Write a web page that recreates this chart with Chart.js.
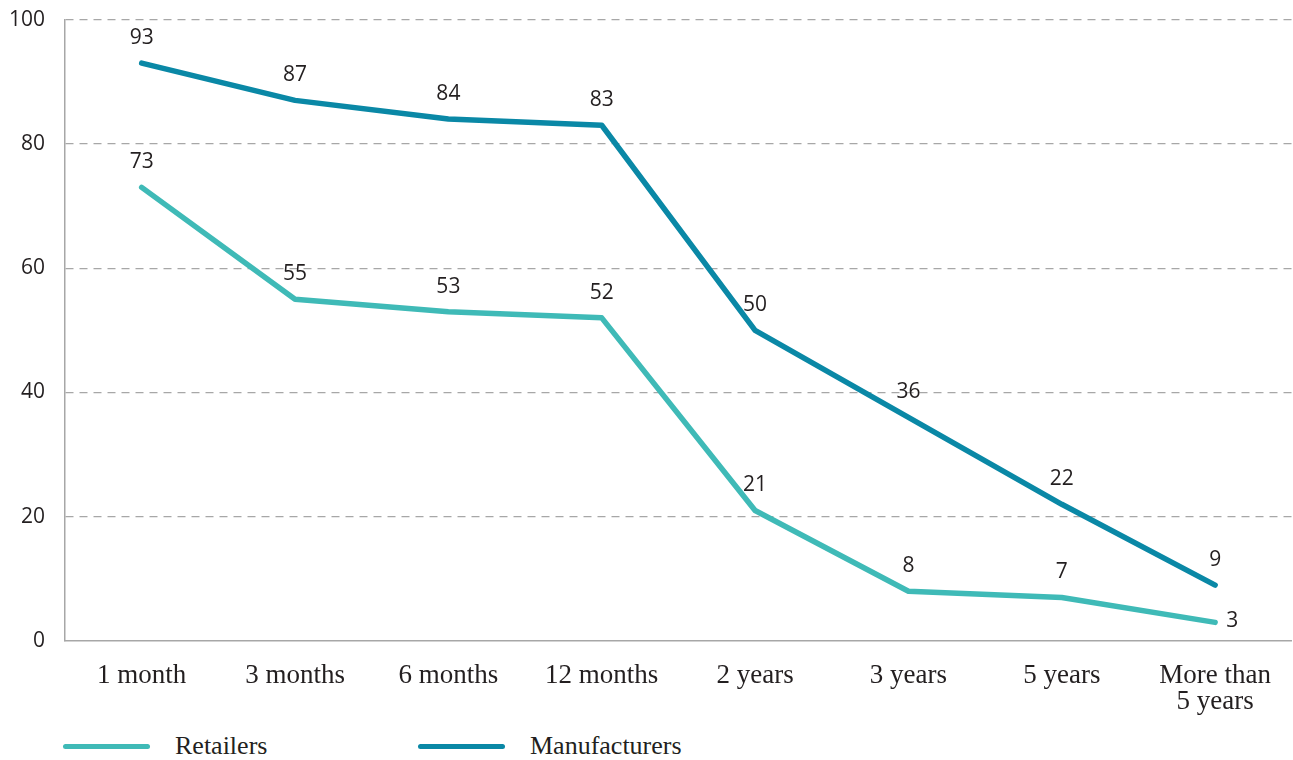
<!DOCTYPE html>
<html>
<head>
<meta charset="utf-8">
<script src="https://cdn.jsdelivr.net/npm/chart.js@4/dist/chart.umd.min.js"></script>
<style>
  html, body { margin: 0; padding: 0; background: #ffffff; overflow: hidden; }
  #wrap { position: relative; width: 1293px; height: 760px; overflow: hidden; }
  #box { position: absolute; left: 0; top: -13px; width: 1293px; height: 728px; }
  #legend { position: absolute; left: 0; top: 731px; height: 30px; width: 1293px;
            font-family: "Liberation Serif", serif; font-size: 26px; color: #231f20; }
  .item { position: absolute; top: 0; height: 30px; display: flex; align-items: center; }
  .swatch { display: inline-block; width: 87px; height: 5px; border-radius: 3px; margin-right: 25px; }
</style>
</head>
<body>
<div id="wrap">
  <div id="box"><canvas id="c"></canvas></div>
  <div id="legend"></div>
</div>
<script>
// Share of firms (%) by time horizon
const categories = ["1 month", "3 months", "6 months", "12 months", "2 years", "3 years", "5 years", ["More than", "5 years"]];
const retailers = [73, 55, 53, 52, 21, 8, 7, 3];
const manufacturers = [93, 87, 84, 83, 50, 36, 22, 9];
const yTicks = [0, 20, 40, 60, 80, 100];

const seriesNames = ["Retailers", "Manufacturers"];
const seriesColors = ["#3fbab7", "#0a88a6"];

const ink = "#231f20";
const sansFont = "'Open Sans', 'Noto Sans', sans-serif";
const serifFont = "'Liberation Serif', serif";

// Writes each point's value above it; the final Retailers value sits to the right of its point
const valueLabels = {
  id: "valueLabels",
  afterDatasetsDraw(chart) {
    const ctx = chart.ctx;
    ctx.save();
    ctx.font = "21px " + sansFont;
    ctx.fillStyle = ink;
    ctx.textBaseline = "middle";
    chart.data.datasets.forEach((ds, di) => {
      const meta = chart.getDatasetMeta(di);
      meta.data.forEach((pt, i) => {
        const txt = String(ds.data[i]);
        const last = i === ds.data.length - 1;
        if (di === 0 && last) {
          ctx.textAlign = "left";
          ctx.fillText(txt, pt.x + 11, pt.y - 1);
        } else {
          ctx.textAlign = "center";
          ctx.fillText(txt, pt.x, pt.y - 25);
        }
      });
    });
    ctx.restore();
  }
};

const ctx = document.getElementById("c");
new Chart(ctx, {
  type: "line",
  data: {
    labels: categories,
    datasets: [
      { label: seriesNames[0], data: retailers, borderColor: seriesColors[0], backgroundColor: seriesColors[0] },
      { label: seriesNames[1], data: manufacturers, borderColor: seriesColors[1], backgroundColor: seriesColors[1] }
    ].map(d => Object.assign(d, {
      borderWidth: 5.5, pointRadius: 0, tension: 0, fill: false,
      borderCapStyle: "round", borderJoinStyle: "round", clip: false
    }))
  },
  options: {
    responsive: true,
    maintainAspectRatio: false,
    animation: false,
    layout: { padding: { top: 6, right: 0, left: 0, bottom: 0 } },
    plugins: { legend: { display: false }, tooltip: { enabled: false } },
    scales: {
      x: {
        offset: true,
        grid: { display: false, drawTicks: false },
        border: { display: true, color: "#a7a7a7", width: 1.5 },
        ticks: { color: ink, font: { family: serifFont, size: 27, lineHeight: 0.97 }, padding: 22, maxRotation: 0, autoSkip: false },
        afterFit(scale) { scale.height = 74; }
      },
      y: {
        min: 0, max: 100,
        afterBuildTicks(scale) { scale.ticks = yTicks.map(v => ({ value: v })); },
        grid: {
          color: c => c.tick.value === 0 ? "rgba(0,0,0,0)" : "#a7a7a7",
          lineWidth: 1.2, drawTicks: false
        },
        border: { display: true, color: "#a7a7a7", width: 1.5, dash: [8, 6] },
        ticks: { color: ink, font: { family: sansFont, size: 21 }, padding: 20 },
        afterFit(scale) { scale.width = 65; }
      }
    }
  },
  plugins: [valueLabels]
});

// Legend row under the chart
const legendX = [63, 418];
const legend = document.getElementById("legend");
seriesNames.forEach((name, i) => {
  const item = document.createElement("div");
  item.className = "item";
  item.style.left = legendX[i] + "px";
  const sw = document.createElement("span");
  sw.className = "swatch";
  sw.style.background = seriesColors[i];
  const tx = document.createElement("span");
  tx.textContent = name;
  item.appendChild(sw);
  item.appendChild(tx);
  legend.appendChild(item);
});
</script>
</body>
</html>
